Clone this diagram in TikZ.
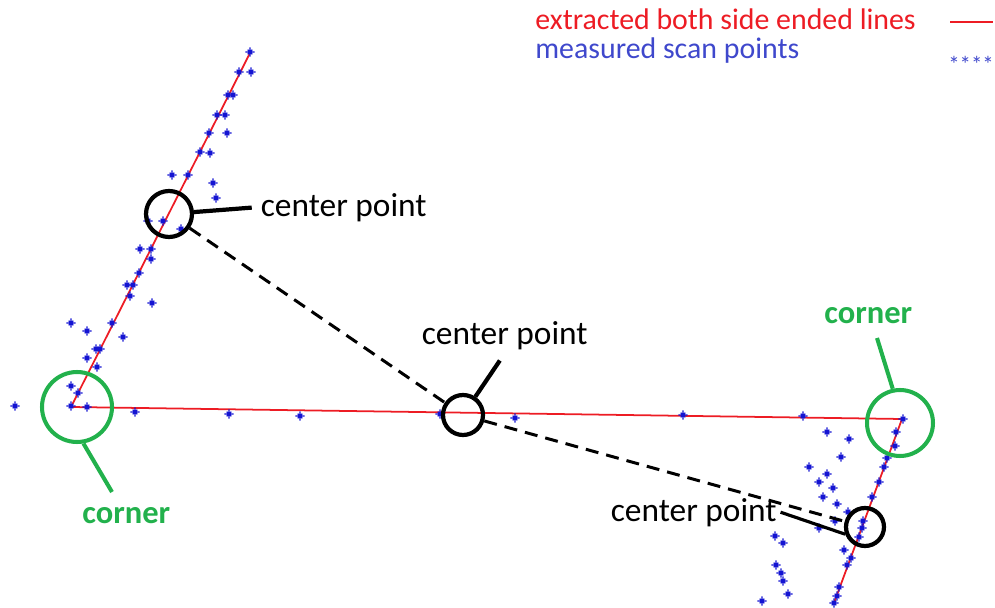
\documentclass[tikz,border=0pt]{standalone}
\usepackage{fontspec}
\setmainfont{Carlito}
\usetikzlibrary{plotmarks}
\definecolor{pntgreen}{HTML}{22B14C}
\definecolor{pntred}{HTML}{ED1C24}
\definecolor{pntblue}{HTML}{3F48CC}
\definecolor{scanblue}{HTML}{1414D2}
% plus and cross on top of each other, like the scan markers
\pgfdeclareplotmark{scanstar}{%
  \pgfpathmoveto{\pgfqpoint{0pt}{\pgfplotmarksize}}\pgfpathlineto{\pgfqpoint{0pt}{-\pgfplotmarksize}}%
  \pgfpathmoveto{\pgfqpoint{\pgfplotmarksize}{0pt}}\pgfpathlineto{\pgfqpoint{-\pgfplotmarksize}{0pt}}%
  \pgfpathmoveto{\pgfqpoint{.5\pgfplotmarksize}{.5\pgfplotmarksize}}\pgfpathlineto{\pgfqpoint{-.5\pgfplotmarksize}{-.5\pgfplotmarksize}}%
  \pgfpathmoveto{\pgfqpoint{.5\pgfplotmarksize}{-.5\pgfplotmarksize}}\pgfpathlineto{\pgfqpoint{-.5\pgfplotmarksize}{.5\pgfplotmarksize}}%
  \pgfusepathqstroke}

\begin{document}
\begin{tikzpicture}[x=0.02cm, y=-0.02cm,
        ring/.style={draw, circle, line width=2.4pt, inner sep=0pt},
        cring/.style={ring, draw=pntgreen, line width=2.3pt},
        lbl/.style={font=\fontsize{19}{23}\selectfont, anchor=base west, inner sep=2pt},
        clbl/.style={font=\fontsize{18.5}{22}\selectfont\bfseries, text=pntgreen, anchor=base west, inner sep=0pt},
        fitline/.style={pntred, line width=1pt},
        ptr/.style={line width=2.4pt},
        cptr/.style={pntgreen, line width=2.3pt},
        scan/.style={scanblue, line width=0.7pt, mark size=2.6pt}]
      \useasboundingbox (0,0) rectangle (995,608);
      % extracted lines
      \coordinate (endT) at (250,53);
      \coordinate (cornL) at (71,407);
      \coordinate (cornR) at (902,419);
      \coordinate (endB) at (834,603);
      \draw[fitline] (endT) -- (cornL) -- (cornR) -- (endB);
      % scan points
      \draw[scan] plot[only marks, mark=scanstar] coordinates {
        (250,52) (239,72) (251,72) (228,95) (233,95) (217,115) (225,115) (209,133) (227,133)
        (200,152) (210,153) (172,175) (188,175) (213,183) (216,198) (163,221) (148,221) (181,229)
        (140,249) (151,249) (151,259) (139,273) (127,285) (133,285) (130,296) (152,303)
        (71,323) (112,323) (87,331) (123,337) (96,349) (100,349) (87,358) (97,367)
        (71,386) (78,393) (71,406) (87,407) (15,406)
        (135,412) (229,414) (300,416) (440,414) (515,418) (683,415) (803,416) (903,419)
        (827,432) (849,439) (896,432) (895,446) (841,457) (887,458) (809,467) (884,467)
        (827,474) (819,482) (879,482) (833,488) (823,497) (872,497) (837,504) (848,512)
        (835,521) (863,521) (862,528) (819,528) (859,537) (775,536) (783,543) (844,550)
        (851,558) (847,565) (776,565) (781,573) (783,581) (839,587) (788,594) (837,596)
        (762,601) (834,603)};
      % center points
      \node[ring, minimum size=0.92cm] (ccA) at (169,214) {};
      \node[ring, minimum size=0.80cm] (ccB) at (463,415) {};
      \node[ring, minimum size=0.76cm] (ccC) at (865,527) {};
      \draw[line width=1.7pt, dash pattern=on 7.4pt off 4.6pt] (ccA) -- (ccB);
      \draw[line width=1.7pt, dash pattern=on 7.4pt off 4.6pt] (ccB) -- (ccC);
      \node[lbl] (lblA) at (257,216) {center point};
      \node[lbl] (lblB) at (418,344) {center point};
      \node[lbl] (lblC) at (607,521) {center point};
      \draw[ptr, shorten >=3pt] (ccA) -- (lblA.west);
      \draw[ptr, shorten >=5pt] (ccB) -- (lblB.south);
      \draw[line width=1.8pt] (lblC.east) -- (ccC.200);
      % corners
      \node[cring, minimum size=1.40cm] (ccD) at (77,407) {};
      \node[cring, minimum size=1.32cm] (ccE) at (900,423) {};
      \node[clbl] (lblD) at (82,523) {corner};
      \node[clbl] (lblE) at (824,323) {corner};
      \coordinate (tipD) at (112,492);
      \coordinate (tipE) at (877,338);
      \draw[cptr] (ccD.280) -- (tipD);
      \draw[cptr] (ccE.102) -- (tipE);
      % legend
      \node[font=\fontsize{17}{20}\selectfont, text=pntred, anchor=base west, inner sep=0pt] (lgLine) at (535,30) {extracted both side ended lines};
      \node[font=\fontsize{17}{20}\selectfont, text=pntblue, anchor=base west, inner sep=0pt] (lgScan) at (535,59) {measured scan points};
      \draw[pntred, line width=1.6pt] (950,22) -- (993,22);
      \node[font=\fontsize{13}{15}\selectfont, text=pntblue, anchor=base west, inner sep=0pt] (lgStar) at (948,73) {****};
\end{tikzpicture}
\end{document}
